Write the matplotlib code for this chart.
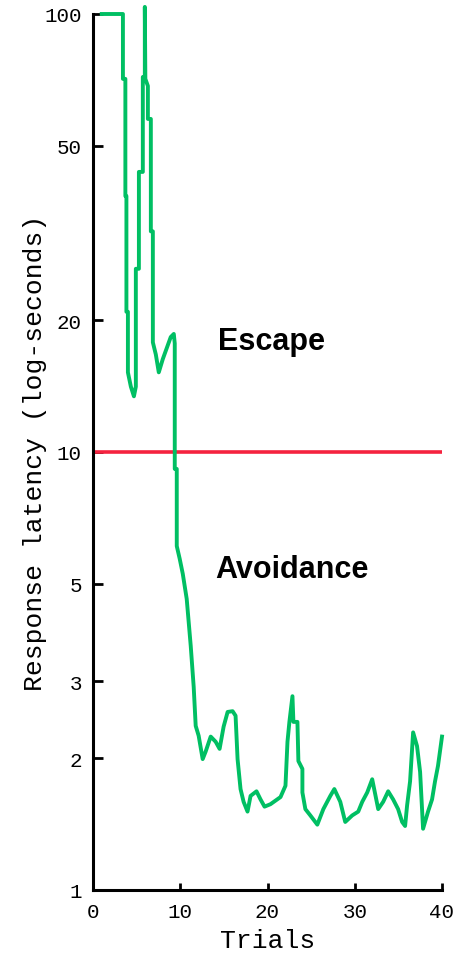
import matplotlib
matplotlib.use('Agg')
import matplotlib.pyplot as plt
from matplotlib.ticker import FixedLocator, NullLocator

# trial position and response latency (s)
trials = [1.0, 3.43, 3.43, 3.71, 3.71, 3.83, 3.83, 4.0, 4.0, 4.34, 4.69, 4.91, 4.91,
          5.26, 5.26, 5.71, 5.71, 5.94, 5.94, 6.0, 6.29, 6.29, 6.63, 6.63, 6.86, 6.86,
          7.2, 7.54, 8.0, 8.91, 9.26, 9.37, 9.37, 9.6, 9.6, 9.94, 10.29, 10.74, 11.2,
          11.54, 11.77, 12.11, 12.57, 12.91, 13.49, 14.06, 14.51, 14.97, 15.43, 16.0,
          16.34, 16.57, 16.91, 17.26, 17.71, 18.06, 18.74, 19.2, 19.66, 20.34, 21.49,
          22.06, 22.29, 22.51, 22.86, 22.97, 23.43, 23.54, 24.0, 24.0, 24.34, 24.91,
          25.71, 26.4, 27.2, 27.66, 28.34, 28.91, 29.71, 30.4, 30.86, 31.43, 32.0,
          32.69, 33.26, 33.83, 34.4, 34.97, 35.43, 35.77, 36.0, 36.34, 36.69, 37.14,
          37.49, 37.83, 38.4, 38.86, 39.2, 39.54, 40.0]
latency = [100, 100, 71.1, 71.1, 38.4, 38.4, 20.9, 20.9, 15.2, 14.1, 13.4, 14.1, 26.2,
           26.2, 43.6, 43.6, 71.8, 71.8, 103.8, 71.1, 68.5, 57.6, 57.6, 31.9, 31.9, 17.8,
           16.7, 15.2, 16.3, 18.3, 18.6, 17.7, 9.15, 9.15, 6.10, 5.70, 5.27, 4.62, 3.61,
           2.91, 2.37, 2.25, 1.99, 2.07, 2.24, 2.18, 2.10, 2.36, 2.55, 2.56,
           2.50, 1.99, 1.70, 1.59, 1.51, 1.64, 1.68, 1.61, 1.55, 1.57, 1.63,
           1.73, 2.18, 2.42, 2.77, 2.42, 2.42, 1.97, 1.89, 1.67, 1.53, 1.48,
           1.41, 1.53, 1.64, 1.70, 1.59, 1.43, 1.48, 1.51, 1.59, 1.67, 1.79,
           1.53, 1.59, 1.68, 1.61, 1.53, 1.43, 1.40, 1.56, 1.77, 2.29, 2.13,
           1.86, 1.38, 1.51, 1.61, 1.77, 1.92, 2.24]
criterion = 10
y_ticks = [1, 2, 3, 5, 10, 20, 50, 100]
x_ticks = [0, 10, 20, 30, 40]

mono = 'Liberation Mono'

fig = plt.figure(figsize=(4.59, 9.54), dpi=100)
ax = fig.add_axes([93/459, 1 - 891/954, (442-93)/459, (891-15)/954])

ax.plot(trials, latency, color='#00bf63', lw=2.8, clip_on=False, zorder=3)
ax.axhline(criterion, color='#f5223f', lw=2.6, zorder=2)

ax.set_yscale('log')
ax.set_xlim(0, 40)
ax.set_ylim(1, 100)
ax.yaxis.set_major_locator(FixedLocator(y_ticks))
ax.yaxis.set_minor_locator(NullLocator())
ax.set_yticks(y_ticks)
ax.set_yticklabels([str(t) for t in y_ticks])
ax.set_xticks(x_ticks)
ax.set_xticklabels([str(t) for t in x_ticks])

for s in ['top', 'right']:
    ax.spines[s].set_visible(False)
for s in ['left', 'bottom']:
    ax.spines[s].set_linewidth(2.2)

ax.tick_params(axis='y', direction='in', length=7, width=2, pad=8, labelsize=15)
ax.tick_params(axis='x', direction='in', length=5, width=2, pad=9, labelsize=15)
for lab in ax.get_xticklabels() + ax.get_yticklabels():
    lab.set_family(mono)

ax.set_xlabel('Trials', family=mono, fontsize=19, labelpad=5)
ax.set_ylabel('Response latency (log-seconds)', family=mono, fontsize=19, labelpad=-2)

ax.text(14.3, 17.2, 'Escape', family='Liberation Sans', weight='bold', fontsize=22,
        va='baseline', ha='left')
ax.text(14.06, 5.18, 'Avoidance', family='Liberation Sans', weight='bold', fontsize=22,
        va='baseline', ha='left')

fig.savefig('out.png', dpi=100)
